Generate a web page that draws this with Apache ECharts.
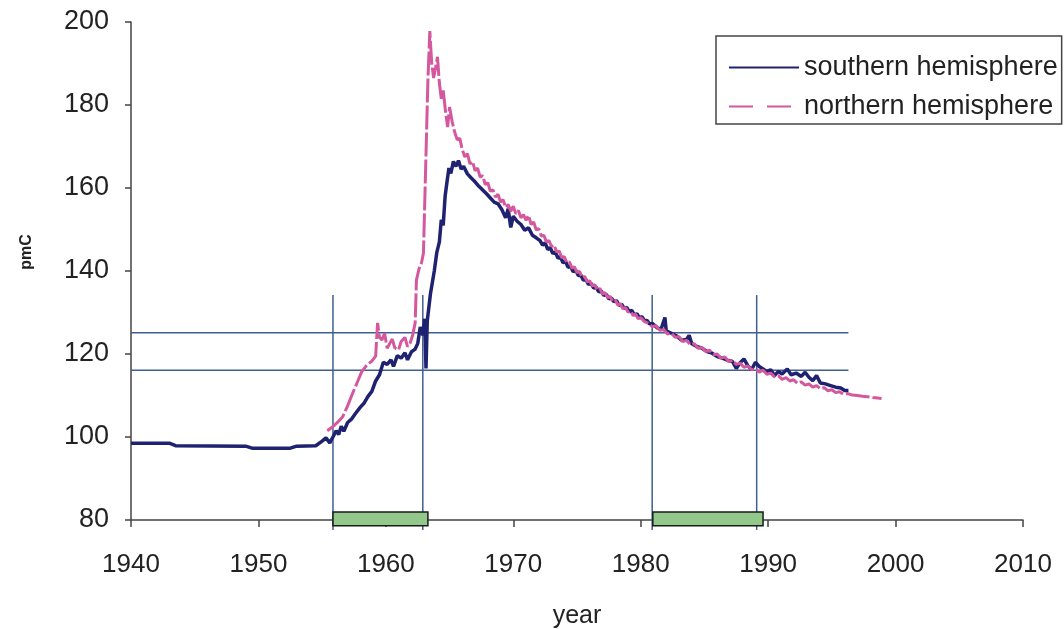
<!DOCTYPE html>
<html>
<head>
<meta charset="utf-8">
<title>pmC</title>
<script src="https://cdn.jsdelivr.net/npm/echarts@6/dist/echarts.min.js"></script>
<style>
  html, body { margin: 0; padding: 0; background: #fff; }
  #main { width: 1064px; height: 629px; }
</style>
</head>
<body>
<div id="main"></div>
<script>
// southern hemisphere
var southYear = [1940, 1943, 1943.5, 1949, 1949.5, 1952.5, 1953, 1954.5, 1955, 1955.3, 1955.6, 1955.9,
  1956.1, 1956.3, 1956.5, 1956.7, 1957, 1957.3, 1957.6, 1958, 1958.3, 1958.6, 1958.9, 1959.2, 1959.5,
  1959.8, 1960.1, 1960.4, 1960.6, 1960.9, 1961.2, 1961.5, 1961.7, 1962, 1962.3, 1962.5, 1962.7, 1962.9,
  1963.05, 1963.15, 1963.25, 1963.5, 1963.8, 1964, 1964.2, 1964.35, 1964.5, 1964.65, 1964.8, 1964.95,
  1965.1, 1965.3, 1965.5, 1965.7, 1965.9, 1966.1, 1966.4, 1966.7, 1967, 1967.3, 1967.6, 1967.9, 1968.2,
  1968.5, 1968.8, 1969.1, 1969.4, 1969.6, 1969.8, 1970, 1970.3, 1970.6, 1970.9, 1971.2, 1971.5, 1971.8,
  1972.1, 1972.3, 1972.5, 1972.7, 1972.9, 1973.1, 1973.3, 1973.5, 1973.7, 1973.9, 1974.1, 1974.3, 1974.5,
  1974.7, 1974.9, 1975.1, 1975.3, 1975.5, 1975.7, 1975.9, 1976.1, 1976.3, 1976.5, 1976.7, 1976.9, 1977.1,
  1977.3, 1977.5, 1977.7, 1977.9, 1978.1, 1978.3, 1978.5, 1978.7, 1978.9, 1979.1, 1979.3, 1979.5, 1979.7,
  1979.9, 1980.1, 1980.3, 1980.5, 1980.7, 1980.9, 1981.3, 1981.6, 1981.9,
  1982, 1982.4, 1982.8, 1983.2, 1983.6, 1983.8, 1984, 1984.4, 1984.8, 1985.2, 1985.6, 1986, 1986.4, 1986.8,
  1987.2, 1987.5, 1987.8, 1988.1, 1988.4, 1988.7, 1989, 1989.3, 1989.6, 1989.9, 1990.2, 1990.5, 1990.8,
  1991.1, 1991.5, 1991.8, 1992.2, 1992.6, 1992.9, 1993.2, 1993.5, 1993.8, 1994.1, 1994.5, 1994.9, 1995.3,
  1995.7, 1996, 1996.3];
var southPmc = [98.5, 98.5, 97.9, 97.8, 97.3, 97.3, 97.8, 97.9, 99, 99.8, 98.6, 100.3,
  101.5, 100.6, 102.6, 101.4, 103.5, 104.3, 105.6, 107.2, 108.2, 109.8, 111, 113.5, 115,
  118, 117.5, 118.6, 117, 119.6, 119, 120.3, 118.6, 120.5, 121.2, 122.5, 126.5, 124.5,
  128.5, 116.5, 128, 134.5, 140, 144.5, 147, 152.3, 151, 158, 161.5, 164.8,
  163.5, 166.4, 165.2, 166.6, 164.6, 165.2, 163.4, 162.4, 161.5, 160.4, 159.5, 158.6, 157.6,
  156.6, 156.2, 154.8, 152.8, 155, 150.5, 153.2, 152, 151.2, 149.8, 150.4, 148.6, 148,
  147.3, 146.2, 146.8, 145.2, 145.6, 144.2, 144.6, 143.1, 143.4, 142, 142.3, 140.9, 141.1,
  139.8, 140.2, 138.9, 139, 137.8, 137.9, 136.8, 137, 135.9, 136.1, 135, 135.2, 134.1,
  134.4, 133.3, 133.5, 132.6, 132.9, 131.7, 132, 131, 131.2, 130.2, 130.5, 129.4, 129.7,
  128.7, 129, 128, 128.1, 127.2, 127.4, 126.3, 126, 128.8,
  125.6, 125, 124.4, 123.3, 123.5, 124.5, 122.5, 121.8, 121.4, 120.6, 120.2, 119.4, 119, 118.5,
  118.2, 116.5, 117.9, 118.8, 117.2, 116.2, 118, 117, 116.4, 115.8, 116.2, 114.8, 115.8,
  115.2, 116.4, 115, 115.4, 114.6, 115.6, 114.4, 113.6, 114.8, 113, 112.8, 112.4, 112,
  111.8, 111.2, 111.2];

// northern hemisphere
var northYear = [1955.4, 1955.8, 1956.2, 1956.6, 1957, 1957.4, 1957.8, 1958.1, 1958.5, 1958.9, 1959.2,
  1959.35, 1959.5, 1959.7, 1959.9, 1960.1, 1960.3, 1960.5, 1960.7, 1961, 1961.2, 1961.5, 1961.7, 1961.9,
  1962.1, 1962.3, 1962.4, 1962.6, 1962.8, 1962.95, 1963.3, 1963.45, 1963.6, 1963.75, 1963.9, 1964.05,
  1964.2, 1964.35, 1964.5, 1964.7, 1964.85, 1965, 1965.2, 1965.4, 1965.6, 1965.8,
  1966, 1966.2, 1966.4, 1966.6, 1966.8, 1967, 1967.2, 1967.4, 1967.6, 1967.8, 1968, 1968.2, 1968.4,
  1968.6, 1968.8, 1969, 1969.2, 1969.4, 1969.6, 1969.8, 1970, 1970.2, 1970.4, 1970.6, 1970.8, 1971,
  1971.2, 1971.4, 1971.6, 1971.8, 1972, 1972.2, 1972.4, 1972.6, 1972.8, 1973, 1973.2, 1973.4, 1973.6,
  1973.8, 1974, 1974.2, 1974.4, 1974.6, 1974.8, 1975, 1975.2, 1975.4, 1975.6, 1975.8, 1976, 1976.2,
  1976.4, 1976.6, 1976.8, 1977, 1977.2, 1977.4, 1977.6, 1977.8, 1978, 1978.2, 1978.4, 1978.6, 1978.8,
  1979, 1979.2, 1979.4, 1979.6, 1979.8, 1980, 1980.3, 1980.6, 1980.9, 1981.2, 1981.5, 1981.8, 1982.1,
  1982.4, 1982.7, 1983, 1983.3, 1983.6, 1983.9, 1984.2, 1984.5, 1984.8, 1985.1, 1985.4, 1985.7, 1986,
  1986.3, 1986.6, 1986.9, 1987.2, 1987.5, 1987.8, 1988.1, 1988.4, 1988.7, 1989, 1989.3, 1989.6, 1989.9,
  1990.2, 1990.5, 1990.8, 1991.1, 1991.4, 1991.7, 1992, 1992.3, 1992.6, 1992.9, 1993.2, 1993.5, 1993.8,
  1994.1, 1994.4, 1994.7, 1995, 1995.3, 1995.6, 1995.9, 1996.2, 1996.6, 1997, 1997.4, 1997.8, 1998.2,
  1998.6, 1998.9];
var northPmc = [101.5, 102.4, 103.5, 104.8, 107.5, 110.6, 113.5, 115.7, 117.3, 118.3, 119.5,
  127.5, 124, 123.4, 125, 121.4, 122.5, 123.6, 121.5, 121, 123, 124, 121.8, 122.6,
  124.5, 127.5, 137.8, 140.5, 142, 144.3, 186, 197.8, 190, 186.5, 189, 191.6,
  185.3, 181.5, 183.5, 178, 174.7, 179.5, 176, 173.5, 171.6, 172,
  169.2, 167.5, 168.3, 165.8, 166.4, 164.2, 164.8, 162.6, 163, 160.8, 161.3, 159.2, 159.6,
  157.8, 158.5, 156.6, 157.2, 155.3, 156, 154.4, 155.6, 153.8, 154.6, 152.8, 153.6, 152.2,
  153.4, 151.2, 151.8, 149.9, 150.2, 148.4, 148.6, 147, 147.3, 145.9, 146.3, 144.6, 144.8,
  143.2, 143.5, 142, 142.2, 140.7, 141, 139.6, 139.9, 138.4, 138.7, 137.4, 137.6, 136.4,
  136.7, 135.4, 135.8, 134.4, 134.8, 133.6, 133.9, 132.7, 133, 131.8, 132.1, 130.9, 131.2,
  130.1, 130.4, 129.3, 129.6, 128.5, 128.8, 127.8, 127.4, 126.6, 126.8, 125.7, 125.9, 124.8,
  125.1, 124, 124.2, 123, 123.3, 122.2, 122.5, 121.4, 121.6, 120.6, 120.9, 119.8, 120,
  119, 119.3, 118.2, 118.5, 117.5, 117.8, 116.8, 117.1, 116.2, 116.5, 115.6, 116.1, 115.1,
  115.4, 114.5, 114.8, 113.9, 114.3, 113.5, 113.8, 112.9, 113.3, 112.5, 112.8, 112, 112.4,
  111.6, 111.9, 111.1, 111.4, 110.7, 110.9, 110.3, 110.5, 110.1, 110, 109.8, 109.7, 109.5,
  109.4, 109.3];

// reference lines and sampling periods
var hLinePmc = [125.1, 116.1];
var hLineFrom = 1940, hLineTo = 1996.3;
var vLineYear = [1955.85, 1962.9, 1980.9, 1989.1];
var vLineLow = 77.6, vLineHigh = 134.2;
var periodStart = [1955.85, 1980.95];
var periodEnd = [1963.3, 1989.6];
var periodLow = 78.6, periodHigh = 81.9;

var xTicks = { min: 1940, max: 2010, step: 10 };
var yTicks = { min: 80, max: 200, step: 20 };

function pairs(xs, ys) {
  var out = [];
  for (var i = 0; i < xs.length; i++) out.push([xs[i], ys[i]]);
  return out;
}

var refLines = [];
hLinePmc.forEach(function (v) { refLines.push([hLineFrom, v, hLineTo, v]); });
vLineYear.forEach(function (y) { refLines.push([y, vLineLow, y, vLineHigh]); });

var periods = [];
for (var i = 0; i < periodStart.length; i++) {
  periods.push([periodStart[i], periodEnd[i], periodLow, periodHigh]);
}

var font = '"Liberation Sans", Arial, Helvetica, sans-serif';
var myChart = echarts.init(document.getElementById('main'));

var option = {
  backgroundColor: '#fff',
  animation: false,
  grid: { left: 131, right: 41, top: 22, bottom: 109, containLabel: false, outerBoundsMode: 'none' },
  legend: {
    data: [
      { name: 'southern hemisphere' },
      { name: 'northern hemisphere', lineStyle: { type: [24, 14] } }
    ],
    orient: 'vertical',
    left: 716,
    top: 36,
    padding: [18, 4, 4, 12],
    itemGap: 12,
    itemWidth: 70,
    itemHeight: 14,
    backgroundColor: '#fff',
    borderColor: '#444',
    borderWidth: 1.5,
    borderRadius: 0,
    itemStyle: { opacity: 0 },
    textStyle: { fontFamily: font, fontSize: 27, color: '#222' }
  },
  xAxis: {
    type: 'value',
    min: xTicks.min,
    max: xTicks.max,
    interval: xTicks.step,
    name: 'year',
    nameLocation: 'middle',
    nameGap: 84,
    nameTextStyle: { fontFamily: font, fontSize: 25, color: '#222' },
    axisLine: { show: true, lineStyle: { color: '#444', width: 1.5 } },
    axisTick: { show: true, length: 7, lineStyle: { color: '#444', width: 1.5 } },
    axisLabel: { fontFamily: font, fontSize: 26, color: '#222', margin: 32, formatter: function (v) { return String(v); } },
    splitLine: { show: false }
  },
  yAxis: {
    type: 'value',
    min: yTicks.min,
    max: yTicks.max,
    interval: yTicks.step,
    name: 'pmC',
    nameLocation: 'middle',
    nameGap: 96,
    nameRotate: 90,
    nameTextStyle: { fontFamily: font, fontSize: 16, fontWeight: 'bold', color: '#222', padding: [0, 0, 0, 38] },
    axisLine: { show: true, lineStyle: { color: '#444', width: 1.5 } },
    axisTick: { show: true, length: 6, lineStyle: { color: '#444', width: 1.5 } },
    axisLabel: { fontFamily: font, fontSize: 27, color: '#222', margin: 22 },
    splitLine: { show: false }
  },
  series: [
    {
      name: 'refs',
      type: 'custom',
      silent: true,
      z: 1,
      encode: { x: [0, 2], y: [1, 3] },
      data: refLines,
      renderItem: function (params, api) {
        var a = api.coord([api.value(0), api.value(1)]);
        var b = api.coord([api.value(2), api.value(3)]);
        return {
          type: 'line',
          shape: { x1: a[0], y1: a[1], x2: b[0], y2: b[1] },
          style: { stroke: '#3f5f8f', lineWidth: 1.5 }
        };
      }
    },
    {
      name: 'southern hemisphere',
      type: 'line',
      z: 3,
      data: pairs(southYear, southPmc),
      showSymbol: false,
      symbol: 'none',
      color: '#1f2270',
      lineStyle: { color: '#1f2270', width: 3.5 }
    },
    {
      name: 'northern hemisphere',
      type: 'line',
      z: 4,
      data: pairs(northYear, northPmc),
      showSymbol: false,
      symbol: 'none',
      color: '#d4589e',
      lineStyle: { color: '#d4589e', width: 3, type: [24, 3] }
    },
    {
      name: 'periods',
      type: 'custom',
      silent: true,
      z: 5,
      encode: { x: [0, 1], y: [2, 3] },
      data: periods,
      renderItem: function (params, api) {
        var a = api.coord([api.value(0), api.value(3)]);
        var b = api.coord([api.value(1), api.value(2)]);
        return {
          type: 'rect',
          shape: { x: a[0], y: a[1], width: b[0] - a[0], height: b[1] - a[1] },
          style: { fill: '#92c98b', stroke: '#1a1a1a', lineWidth: 1.5 }
        };
      }
    }
  ]
};

myChart.setOption(option);
</script>
</body>
</html>
